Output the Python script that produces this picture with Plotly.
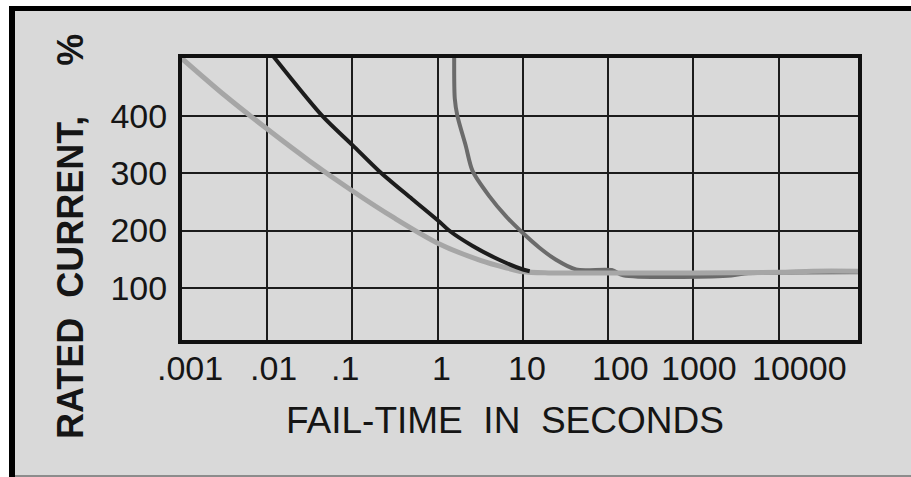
import math
import plotly.graph_objects as go

# Fail-time characteristics: time in seconds vs. rated current in percent
fast_time = [0.001, 0.00316, 0.01, 0.0316, 0.1, 0.316, 1.0, 3.16, 6.3, 10, 20, 100, 1000, 10000, 25000, 100000]
fast_current = [500, 436, 377, 321, 269, 221, 178, 148, 135, 128, 126, 126, 126, 127, 129, 129]

medium_time = [0.01148, 0.0442, 0.1, 0.204, 0.5, 1.07, 1.36, 2.57, 5.25, 10, 12]
medium_current = [506, 400, 349, 304, 255, 214, 200, 173, 149, 132, 129]

slow_time = [1.56, 1.585, 1.70, 2.13, 2.56, 4.02, 6.30, 9.89, 15.6, 24.4, 41.9, 110, 150, 2500, 4000, 100000]
slow_current = [506, 430, 400, 348, 304, 260, 225, 196, 170, 149, 132, 131, 122, 121, 125, 127]

x_tick_values = [0.001, 0.01, 0.1, 1, 10, 100, 1000, 10000]
x_tick_labels = [".001", ".01", ".1", "1", "10", "100", "1000", "10000"]
y_tick_values = [100, 200, 300, 400]
y_tick_labels = ["100", "200", "300", "400"]

x_title = "FAIL-TIME\u00a0\u00a0IN\u00a0\u00a0SECONDS"
y_title = "RATED\u00a0\u00a0CURRENT,\u00a0\u00a0\u00a0\u00a0\u00a0%"

# horizontal nudge (px) of each time label from its grid line
x_label_nudge = [8, 6, -7, 4, 4, 12, 6, 21]

W, H = 911, 477
ML, MR, MT, MB = 182, 53, 58, 137
PW = W - ML - MR
PH = H - MT - MB

BG = "#d9d9d9"
INK = "#151515"
FONT = "Liberation Sans, Arial, sans-serif"


def fx(px):
    return (px - ML) / PW


def fy(py):
    return (H - MB - py) / PH


fig = go.Figure()
fig.add_trace(go.Scatter(x=slow_time, y=slow_current, mode="lines",
                         line=dict(color="#6b6b6b", width=4, shape="spline", smoothing=0.8),
                         hoverinfo="skip"))
fig.add_trace(go.Scatter(x=fast_time, y=fast_current, mode="lines",
                         line=dict(color="#a6a6a6", width=5, shape="spline", smoothing=0.8),
                         hoverinfo="skip"))
fig.add_trace(go.Scatter(x=medium_time, y=medium_current, mode="lines",
                         line=dict(color="#1c1c1c", width=4, shape="spline", smoothing=0.8),
                         hoverinfo="skip"))

axis_common = dict(
    showgrid=True, gridcolor="#1c1c1c", gridwidth=2,
    showline=True, linecolor="#111111", linewidth=4, mirror=True,
    ticks="", zeroline=False,
    tickfont=dict(family=FONT, size=34, color=INK),
)

fig.update_xaxes(type="log", range=[-3, 4.93], tickvals=x_tick_values,
                 showticklabels=False, **axis_common)
fig.update_yaxes(range=[9, 501], tickvals=y_tick_values, ticktext=y_tick_labels,
                 ticklabelstandoff=4, **axis_common)

# time labels placed on the log axis, each nudged a little off its grid line
for v, label, dx in zip(x_tick_values, x_tick_labels, x_label_nudge):
    fig.add_annotation(x=math.log10(v), xref="x", y=fy(367.5), yref="paper",
                       text=label, showarrow=False, xanchor="center", yanchor="middle",
                       xshift=dx, font=dict(family=FONT, size=34, color=INK))

fig.add_annotation(x=fx(505), y=fy(420), xref="paper", yref="paper", text=x_title,
                   showarrow=False, xanchor="center", yanchor="middle",
                   font=dict(family=FONT, size=37, color=INK))
fig.add_annotation(x=fx(70), y=fy(237), xref="paper", yref="paper", text="<b>" + y_title + "</b>",
                   textangle=-90, showarrow=False, xanchor="center", yanchor="middle",
                   font=dict(family=FONT, size=36, color=INK))

# panel frame: white outer margin, black top and left rules, thin grey bottom edge
frame = [
    (-5, -5, W + 5, 6, "#ffffff"),
    (-5, -5, 9, H + 5, "#ffffff"),
    (9, 6, W + 5, 11, "#000000"),
    (9, 6, 15, H + 5, "#000000"),
    (15, 475, W + 5, H + 5, "#8c8c8c"),
]
for x0, y0, x1, y1, c in frame:
    fig.add_shape(type="rect", xref="paper", yref="paper",
                  x0=fx(x0), x1=fx(x1), y0=fy(y0), y1=fy(y1),
                  fillcolor=c, line=dict(width=0), layer="above")

fig.update_layout(width=W, height=H, margin=dict(l=ML, r=MR, t=MT, b=MB, pad=0),
                  paper_bgcolor=BG, plot_bgcolor=BG, showlegend=False)

fig.write_html("out.html")
